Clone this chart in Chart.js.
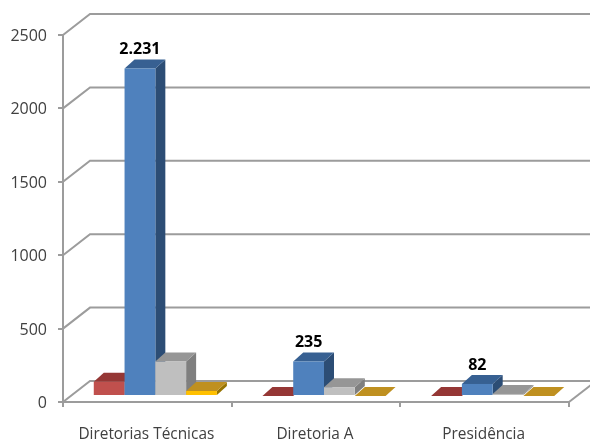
<!DOCTYPE html>
<html><head><meta charset="utf-8">
<style>html,body{margin:0;padding:0;background:#fff;overflow:hidden}canvas{display:block;filter:blur(0.4px)}</style>
<script src="https://cdn.jsdelivr.net/npm/chart.js@4"></script>
</head><body><canvas id="c" width="590" height="441"></canvas>
<script>
const categories = ["Diretorias Técnicas", "Diretoria A", "Presidência"];
const redValues = [97, 0, 0];
const blueValues = [2231, 235, 82];
const grayValues = [235, 60, 14];
const yellowValues = [34, 0, 0];
const yTicks = [0, 500, 1000, 1500, 2000, 2500];

const lineColor = "#9c9c9c";
const wallDepth = {dx: 27, dy: 21};
const barShift = {dx: 8, dy: 6};
const barDepth = {dx: 10, dy: 9};

const threeD = {
  id: "threeD",
  beforeDatasetsDraw(chart) {
    const {ctx, chartArea: a, scales: {y}} = chart;
    ctx.save();
    ctx.strokeStyle = lineColor;
    ctx.lineWidth = 2;
    yTicks.forEach(v => {
      const py = y.getPixelForValue(v);
      ctx.beginPath();
      ctx.moveTo(a.left, py);
      ctx.lineTo(a.left + wallDepth.dx, py - wallDepth.dy);
      ctx.lineTo(chart.width + 5, py - wallDepth.dy);
      ctx.stroke();
    });
    ctx.beginPath();
    ctx.moveTo(a.right, a.bottom);
    ctx.lineTo(a.right + wallDepth.dx, a.bottom - wallDepth.dy);
    ctx.stroke();
    ctx.restore();
  },
  beforeDatasetDraw() {
    return false;
  },
  afterDatasetsDraw(chart) {
    const {ctx} = chart;
    const {dx, dy} = barDepth;
    ctx.save();
    ctx.translate(barShift.dx, -barShift.dy);
    chart.data.datasets.forEach((ds, i) => {
      chart.getDatasetMeta(i).data.forEach(b => {
        const l = b.x - b.width / 2, r = b.x + b.width / 2, t = b.y, bo = b.base;
        ctx.fillStyle = ds.sideColor;
        ctx.beginPath();
        ctx.moveTo(r, t); ctx.lineTo(r + dx, t - dy); ctx.lineTo(r + dx, bo - dy); ctx.lineTo(r, bo);
        ctx.closePath(); ctx.fill();
        ctx.fillStyle = ds.topColor;
        ctx.beginPath();
        ctx.moveTo(l, t); ctx.lineTo(l + dx, t - dy); ctx.lineTo(r + dx, t - dy); ctx.lineTo(r, t);
        ctx.closePath(); ctx.fill();
        b.draw(ctx);
      });
    });
    ctx.fillStyle = "#000";
    ctx.font = "bold 16px 'Open Sans'";
    ctx.textAlign = "center";
    ctx.textBaseline = "middle";
    chart.getDatasetMeta(1).data.forEach((b, i) => {
      const txt = String(blueValues[i]).replace(/\B(?=(\d{3})+$)/g, ".");
      ctx.fillText(txt, b.x, b.y - 19);
    });
    ctx.restore();
  }
};

const mk = (label, data, color, sideColor, topColor) => ({
  label, data, backgroundColor: color, sideColor, topColor,
  borderWidth: 0, clip: false, categoryPercentage: 0.73, barPercentage: 1
});

new Chart(document.getElementById("c"), {
  type: "bar",
  data: {
    labels: categories,
    datasets: [
      mk("Vermelho", redValues, "#c0504d", "#7a2f2d", "#953735"),
      mk("Azul", blueValues, "#4f81bd", "#2c4d75", "#376092"),
      mk("Cinza", grayValues, "#bfbfbf", "#7f7f7f", "#969696"),
      mk("Amarelo", yellowValues, "#ffc000", "#977400", "#bf9020")
    ]
  },
  plugins: [threeD],
  options: {
    responsive: false,
    animation: false,
    layout: {padding: {top: 35, right: 21, left: 0, bottom: 0}},
    plugins: {legend: {display: false}, tooltip: {enabled: false}},
    scales: {
      x: {
        offset: true,
        grid: {offset: true, drawOnChartArea: false, color: lineColor, lineWidth: 2, tickLength: 5},
        border: {color: lineColor, width: 2},
        ticks: {color: "#404040", padding: 18, labelOffset: -1, maxRotation: 0, font: {family: "'Open Sans'", size: 15.4}},
        afterFit(s) { s.height = 39; }
      },
      y: {
        min: 0, max: 2500,
        afterBuildTicks(s) { s.ticks = yTicks.map(v => ({value: v})); },
        grid: {drawOnChartArea: false, color: lineColor, lineWidth: 2, tickLength: 5},
        border: {color: lineColor, width: 2},
        ticks: {color: "#404040", padding: 11, labelOffset: 1.5, callback: v => String(v), font: {family: "'Open Sans'", size: 16}},
        afterFit(s) { s.width = 63; }
      }
    }
  }
});
</script></body></html>
